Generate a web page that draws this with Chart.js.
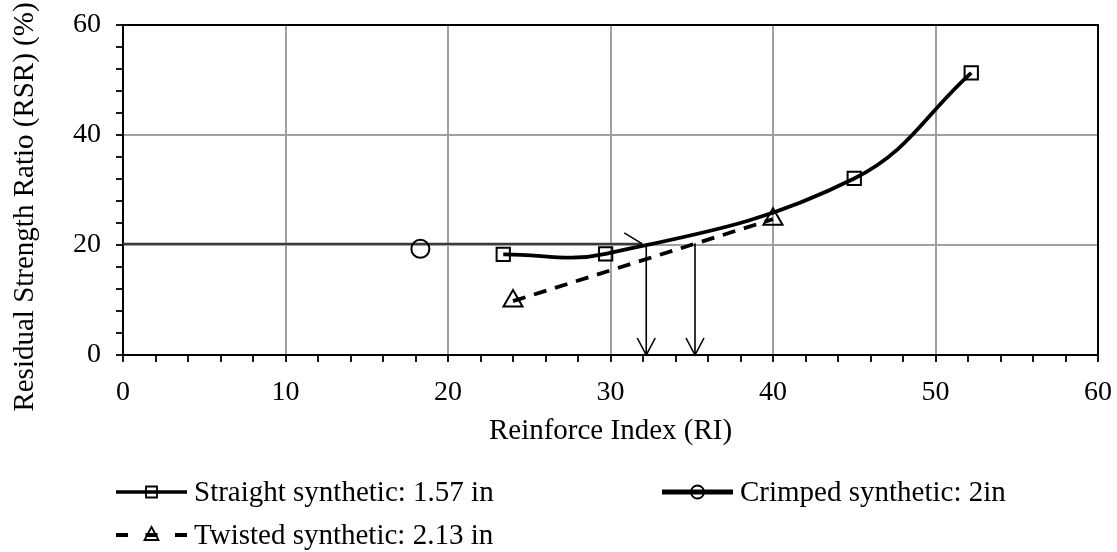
<!DOCTYPE html>
<html>
<head>
<meta charset="utf-8">
<script src="https://cdn.jsdelivr.net/npm/chart.js@4.4.1/dist/chart.umd.min.js"></script>
<style>
  html, body { margin: 0; padding: 0; background: #fff; }
  #wrap { width: 1117px; height: 552px; }
</style>
</head>
<body>
<div id="wrap"><canvas id="c" width="1117" height="552"></canvas></div>
<script>
// Measured series: Reinforce Index (RI) vs Residual Strength Ratio (RSR, %)
const straightRI  = [23.4, 29.7, 45.0, 52.2];
const straightRSR = [18.3, 18.4, 32.1, 51.3];
const crimpedRI   = [18.3];
const crimpedRSR  = [19.3];
const twistedRI   = [24.0, 40.0];
const twistedRSR  = [9.8, 24.7];

// Target RSR level and the RI values read where each curve reaches it
const targetRSR      = 20.2;
const targetRI       = [32.2, 35.2];
const targetStartRSR = [20.0, 20.3];

// Axis ticks
const xMajorTicks = [0, 10, 20, 30, 40, 50, 60];
const yMajorTicks = [0, 20, 40, 60];
const xMinorStep = 2;
const yMinorStep = 4;

const xTitle = 'Reinforce Index (RI)';
const yTitle = 'Residual Strength Ratio (RSR) (%)';
const seriesNames = [
  'Straight synthetic: 1.57 in',
  'Crimped synthetic: 2in',
  'Twisted synthetic: 2.13 in'
];

const FONT = "'Liberation Serif', 'Times New Roman', serif";
const toPoints = (xs, ys) => xs.map((x, i) => ({ x: x, y: ys[i] }));

// Frame, target line and arrows drawn in data coordinates
const annotations = {
  id: 'annotations',
  beforeDatasetsDraw(chart) {
    const { ctx, chartArea: a, scales: { x, y } } = chart;
    ctx.save();
    // top and right border of the plot
    ctx.strokeStyle = '#000';
    ctx.lineWidth = 2;
    ctx.beginPath();
    ctx.moveTo(a.left, a.top);
    ctx.lineTo(a.right, a.top);
    ctx.lineTo(a.right, a.bottom);
    ctx.stroke();

    // horizontal target line with arrow
    const ty = y.getPixelForValue(targetRSR);
    const tx = x.getPixelForValue(targetRI[0]) - 4;
    ctx.strokeStyle = '#3a3a3a';
    ctx.lineWidth = 2.2;
    ctx.beginPath();
    ctx.moveTo(x.getPixelForValue(0), ty);
    ctx.lineTo(tx, ty);
    ctx.stroke();
    ctx.strokeStyle = '#000';
    ctx.lineWidth = 1.6;
    ctx.beginPath();
    ctx.moveTo(tx - 18, ty - 11);
    ctx.lineTo(tx, ty);
    ctx.stroke();

    // vertical arrows down to the RI axis
    targetRI.forEach((ri, i) => {
      const px = x.getPixelForValue(ri);
      const y0 = y.getPixelForValue(targetStartRSR[i]);
      const y1 = y.getPixelForValue(0);
      ctx.beginPath();
      ctx.moveTo(px, y0);
      ctx.lineTo(px, y1);
      ctx.moveTo(px - 9, y1 - 17);
      ctx.lineTo(px, y1);
      ctx.lineTo(px + 9, y1 - 17);
      ctx.stroke();
    });
    ctx.restore();
  }
};

// Rotated value-axis title and the legend below the chart
const textBlocks = {
  id: 'textBlocks',
  afterDraw(chart) {
    const ctx = chart.ctx;
    ctx.save();
    ctx.fillStyle = '#000';
    ctx.font = '29px ' + FONT;

    ctx.save();
    ctx.translate(25, 207);
    ctx.rotate(-Math.PI / 2);
    ctx.textAlign = 'center';
    ctx.textBaseline = 'middle';
    ctx.fillText(yTitle, 0, 0);
    ctx.restore();

    ctx.textBaseline = 'middle';
    ctx.textAlign = 'left';
    const items = [
      { x: 116, y: 492, kind: 'square' },
      { x: 662, y: 492, kind: 'circle' },
      { x: 116, y: 535, kind: 'triangle' }
    ];
    items.forEach((it, i) => {
      const x0 = it.x, x1 = it.x + 71, cx = (x0 + x1) / 2, cy = it.y;
      ctx.strokeStyle = '#000';
      ctx.lineCap = 'butt';
      if (it.kind === 'triangle') {
        ctx.lineWidth = 4;
        [[x0, x0 + 12], [cx - 6, cx + 6], [x1 - 12, x1]].forEach(s => {
          ctx.beginPath(); ctx.moveTo(s[0], cy); ctx.lineTo(s[1], cy); ctx.stroke();
        });
      } else {
        ctx.lineWidth = it.kind === 'circle' ? 5 : 3.5;
        ctx.beginPath(); ctx.moveTo(x0, cy); ctx.lineTo(x1, cy); ctx.stroke();
      }
      ctx.lineWidth = 1.8;
      ctx.beginPath();
      if (it.kind === 'square') {
        ctx.rect(cx - 5.5, cy - 5.5, 11, 11);
      } else if (it.kind === 'circle') {
        ctx.arc(cx, cy, 6.5, 0, Math.PI * 2);
      } else {
        ctx.moveTo(cx, cy - 8);
        ctx.lineTo(cx + 7, cy + 5);
        ctx.lineTo(cx - 7, cy + 5);
        ctx.closePath();
      }
      ctx.stroke();
      ctx.fillText(seriesNames[i], x1 + 7, cy + 1);
    });
    ctx.restore();
  }
};

const gridColor = (majors) => (c) =>
  (c.tick && majors.includes(c.tick.value)) ? '#a0a0a0' : 'rgba(0,0,0,0)';

new Chart(document.getElementById('c'), {
  type: 'scatter',
  data: {
    datasets: [
      {
        label: seriesNames[0],
        data: toPoints(straightRI, straightRSR),
        showLine: true,
        tension: 0.4,
        borderColor: '#000',
        borderWidth: 3.8,
        pointStyle: 'rect',
        pointRadius: 9.4,
        pointBorderWidth: 2,
        pointBorderColor: '#000',
        pointBackgroundColor: 'rgba(0,0,0,0)'
      },
      {
        label: seriesNames[1],
        data: toPoints(crimpedRI, crimpedRSR),
        showLine: true,
        borderColor: '#000',
        borderWidth: 4.5,
        pointStyle: 'circle',
        pointRadius: 9,
        pointBorderWidth: 2,
        pointBorderColor: '#000',
        pointBackgroundColor: 'rgba(0,0,0,0)'
      },
      {
        label: seriesNames[2],
        data: toPoints(twistedRI, twistedRSR),
        showLine: true,
        borderColor: '#000',
        borderWidth: 3.8,
        borderDash: [13, 9],
        pointStyle: 'triangle',
        pointRadius: 11,
        pointBorderWidth: 2,
        pointBorderColor: '#000',
        pointBackgroundColor: 'rgba(0,0,0,0)'
      }
    ]
  },
  options: {
    responsive: false,
    animation: false,
    devicePixelRatio: 1,
    layout: { padding: { top: 25, right: 19, bottom: 100, left: 0 } },
    plugins: {
      legend: { display: false },
      tooltip: { enabled: false }
    },
    scales: {
      x: {
        type: 'linear',
        min: 0, max: 60,
        afterFit: (s) => { s.height = 97; s.paddingLeft = 0; s.paddingRight = 0; },
        border: { color: '#000', width: 2 },
        grid: {
          color: gridColor(xMajorTicks),
          lineWidth: 2,
          tickColor: '#000',
          tickLength: 7,
          tickWidth: 1.8
        },
        ticks: {
          stepSize: xMinorStep,
          autoSkip: false,
          maxRotation: 0,
          padding: 14,
          color: '#000',
          font: { family: FONT, size: 28 },
          callback: (v) => xMajorTicks.includes(v) ? String(v) : ''
        },
        title: {
          display: true,
          text: xTitle,
          color: '#000',
          font: { family: FONT, size: 29 },
          padding: { top: 0, bottom: 3 }
        }
      },
      y: {
        type: 'linear',
        min: 0, max: 60,
        afterFit: (s) => { s.width = 123; s.paddingTop = 0; s.paddingBottom = 0; },
        border: { color: '#000', width: 2 },
        grid: {
          color: gridColor(yMajorTicks),
          lineWidth: 2,
          tickColor: '#000',
          tickLength: 7,
          tickWidth: 1.8
        },
        ticks: {
          stepSize: yMinorStep,
          autoSkip: false,
          padding: 15,
          color: '#000',
          font: { family: FONT, size: 28 },
          callback: (v) => yMajorTicks.includes(v) ? String(v) : ''
        },
        title: { display: false }
      }
    }
  },
  plugins: [annotations, textBlocks]
});
</script>
</body>
</html>
